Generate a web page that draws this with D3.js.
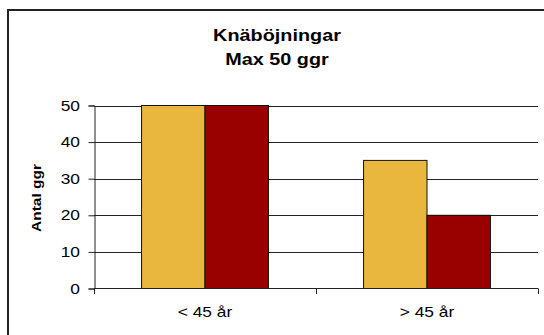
<!DOCTYPE html>
<html><head><meta charset="utf-8">
<script src="https://cdn.jsdelivr.net/npm/d3@7"></script>
<style>html,body{margin:0;padding:0;background:#fff;}svg{display:block;}</style>
</head><body>
<script>
const categories = ["< 45 år", "> 45 år"];
const seriesNames = ["Serie 1", "Serie 2"];
const series1 = [50, 35];
const series2 = [50, 20];
const yTicks = [0, 10, 20, 30, 40, 50];
const titleLines = ["Knäböjningar", "Max 50 ggr"];
const yLabel = "Antal ggr";
const colors = ["#E9B73D", "#990000"];

const W = 544, H = 335;
const svg = d3.select("body").append("svg").attr("width", W).attr("height", H);
const FONT = "'Liberation Sans', Arial, sans-serif";
const SX = 1.24;

svg.append("rect").attr("x", 8).attr("y", 10).attr("width", 560).attr("height", 360)
  .attr("fill", "#fff").attr("stroke", "#222").attr("stroke-width", 2);

const x0 = d3.scaleBand().domain(categories).range([94, 538]).padding(0);
const x1 = d3.scaleBand().domain(seriesNames).range([0, x0.bandwidth()]).paddingInner(0).paddingOuter(0.75);
const y = d3.scaleLinear().domain([0, 50]).range([288.5, 105.5]);

function stxt(g, x, yy, str, size, weight, anchor, rot) {
  const gg = g.append("g").attr("transform", `translate(${x},${yy}) rotate(${rot||0}) scale(${SX},1)`);
  gg.append("text").attr("x", 0).attr("y", 0).attr("text-anchor", anchor)
    .attr("font-family", FONT).attr("font-size", size).attr("font-weight", weight)
    .attr("fill", "#000").text(str);
}

// gridlines
svg.append("g").selectAll("line").data(yTicks.filter(d => d > 0)).join("line")
  .attr("x1", 94).attr("x2", 538)
  .attr("y1", d => Math.round(y(d)) + 0.5).attr("y2", d => Math.round(y(d)) + 0.5)
  .attr("stroke", "#222").attr("stroke-width", 1);

// bars
const data = categories.map((c, i) => ({c, vals: [series1[i], series2[i]]}));
const grp = svg.append("g").selectAll("g").data(data).join("g")
  .attr("transform", d => `translate(${x0(d.c)},0)`);
grp.selectAll("rect").data(d => d.vals.map((v, j) => ({v, s: seriesNames[j], j}))).join("rect")
  .attr("x", d => x1(d.s)).attr("width", x1.bandwidth())
  .attr("y", d => y(d.v)).attr("height", d => y(0) - y(d.v))
  .attr("fill", d => colors[d.j]).attr("stroke", "#111").attr("stroke-width", 1);

// y axis
const yAxis = d3.axisLeft(y).tickValues(yTicks).tickSize(6).tickFormat("");
const ya = svg.append("g").attr("transform", "translate(94.5,0)").call(yAxis);
ya.select(".domain").attr("stroke", "#222");
ya.selectAll(".tick line").attr("stroke", "#222");
yTicks.forEach(t => stxt(svg, 80, y(t) + 5, String(t), 14, "normal", "end"));

// x axis
svg.append("line").attr("x1", 94).attr("x2", 538).attr("y1", 288.5).attr("y2", 288.5).attr("stroke", "#222");
const bounds = categories.map(c => x0(c)).concat([x0(categories[categories.length-1]) + x0.bandwidth()]);
svg.append("g").selectAll("line").data(bounds).join("line")
  .attr("x1", d => Math.round(d) + 0.5).attr("x2", d => Math.round(d) + 0.5)
  .attr("y1", 288.5).attr("y2", 294).attr("stroke", "#222");
categories.forEach(c => stxt(svg, x0(c) + x0.bandwidth() / 2, 317, c, 14, "normal", "middle"));

// title
stxt(svg, 277, 41, titleLines[0], 16, "bold", "middle");
stxt(svg, 277, 65, titleLines[1], 16, "bold", "middle");

// y label
stxt(svg, 40.5, 198, yLabel, 12.5, "bold", "middle", -90);
</script>
</body></html>
